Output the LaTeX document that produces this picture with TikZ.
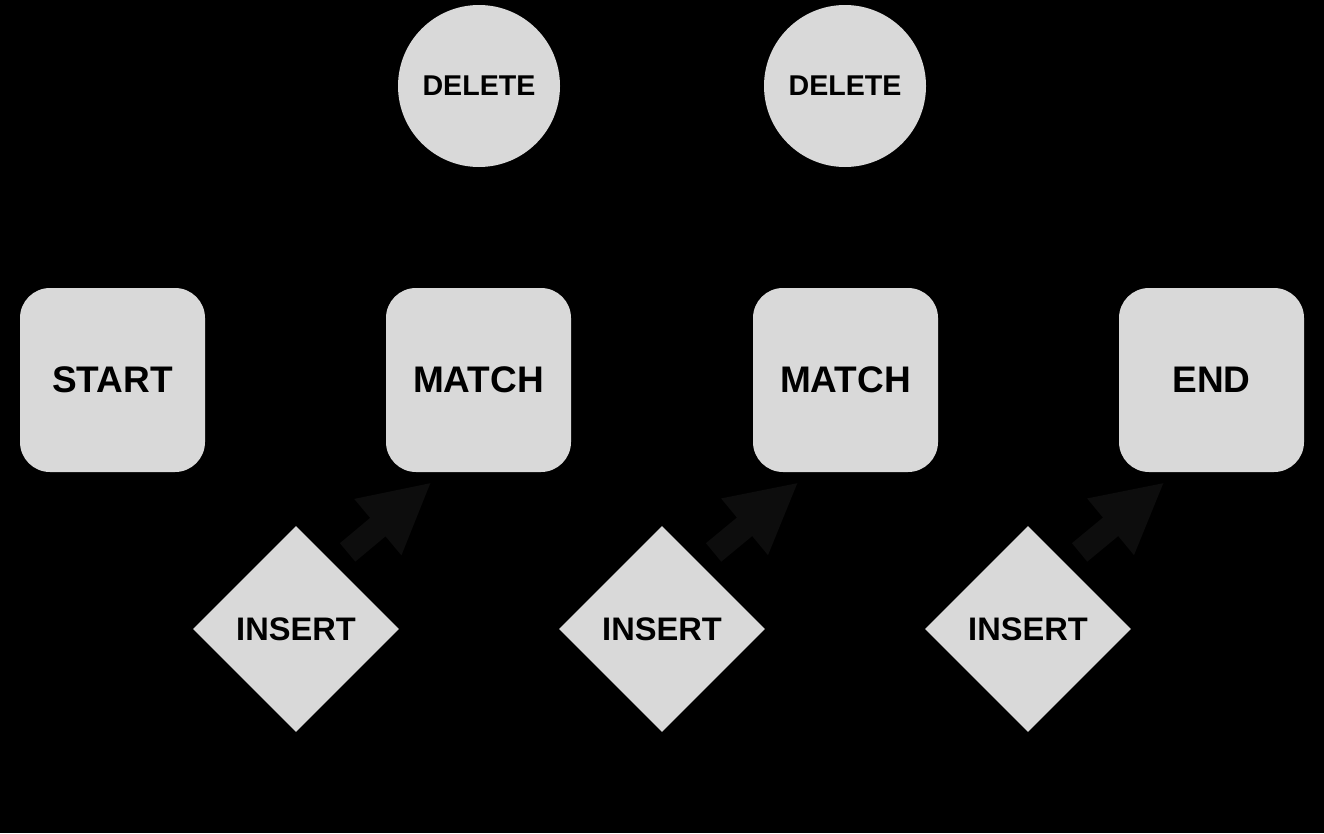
\documentclass[tikz,border=0pt]{standalone}
\usepackage{fontspec}
\setmainfont{Liberation Sans}
\usetikzlibrary{shapes.geometric,arrows.meta,calc}
\definecolor{shapefill}{HTML}{D9D9D9}
\definecolor{arrowgray}{HTML}{0D0D0D}
\tikzset{
  statebox/.style={rectangle, rounded corners=30pt, fill=shapefill, minimum width=185pt, minimum height=184pt, inner sep=0pt, font=\bfseries\fontsize{37}{40}\selectfont, text=black},
  delcircle/.style={circle, fill=shapefill, minimum size=162pt, inner sep=0pt, font=\bfseries\fontsize{28.6}{32}\selectfont, text=black},
  insdiamond/.style={diamond, fill=shapefill, minimum width=206pt, minimum height=206pt, inner sep=0pt, font=\bfseries\fontsize{32.6}{36}\selectfont, text=black},
  fatarrow/.style={draw=arrowgray, line width=24pt, -{Triangle[width=68pt,length=70pt,fill=arrowgray]}}
}
\begin{document}
\begin{tikzpicture}[x=1pt,y=-1pt]
\fill[black] (0,0) rectangle (1324,833);
\useasboundingbox (0,0) rectangle (1324,833);
\node[statebox] (start) at (112.5,380) {START};
\node[statebox] (m1) at (478.5,380) {MATCH};
\node[statebox] (m2) at (845.5,380) {MATCH};
\node[statebox] (end) at (1211.5,380) {END};
\node[delcircle] (d1) at (479,86) {DELETE};
\node[delcircle] (d2) at (845,86) {DELETE};
\node[insdiamond] (i1) at (296,629) {INSERT};
\node[insdiamond] (i2) at (662,629) {INSERT};
\node[insdiamond] (i3) at (1028,629) {INSERT};
\draw[fatarrow] ($(i1.north east)+(0,-25)$) -- ($(m1.south)+(-47,10)$);
\draw[fatarrow] ($(i2.north east)+(0,-25)$) -- ($(m2.south)+(-47,10)$);
\draw[fatarrow] ($(i3.north east)+(0,-25)$) -- ($(end.south)+(-47,10)$);
\end{tikzpicture}
\end{document}
